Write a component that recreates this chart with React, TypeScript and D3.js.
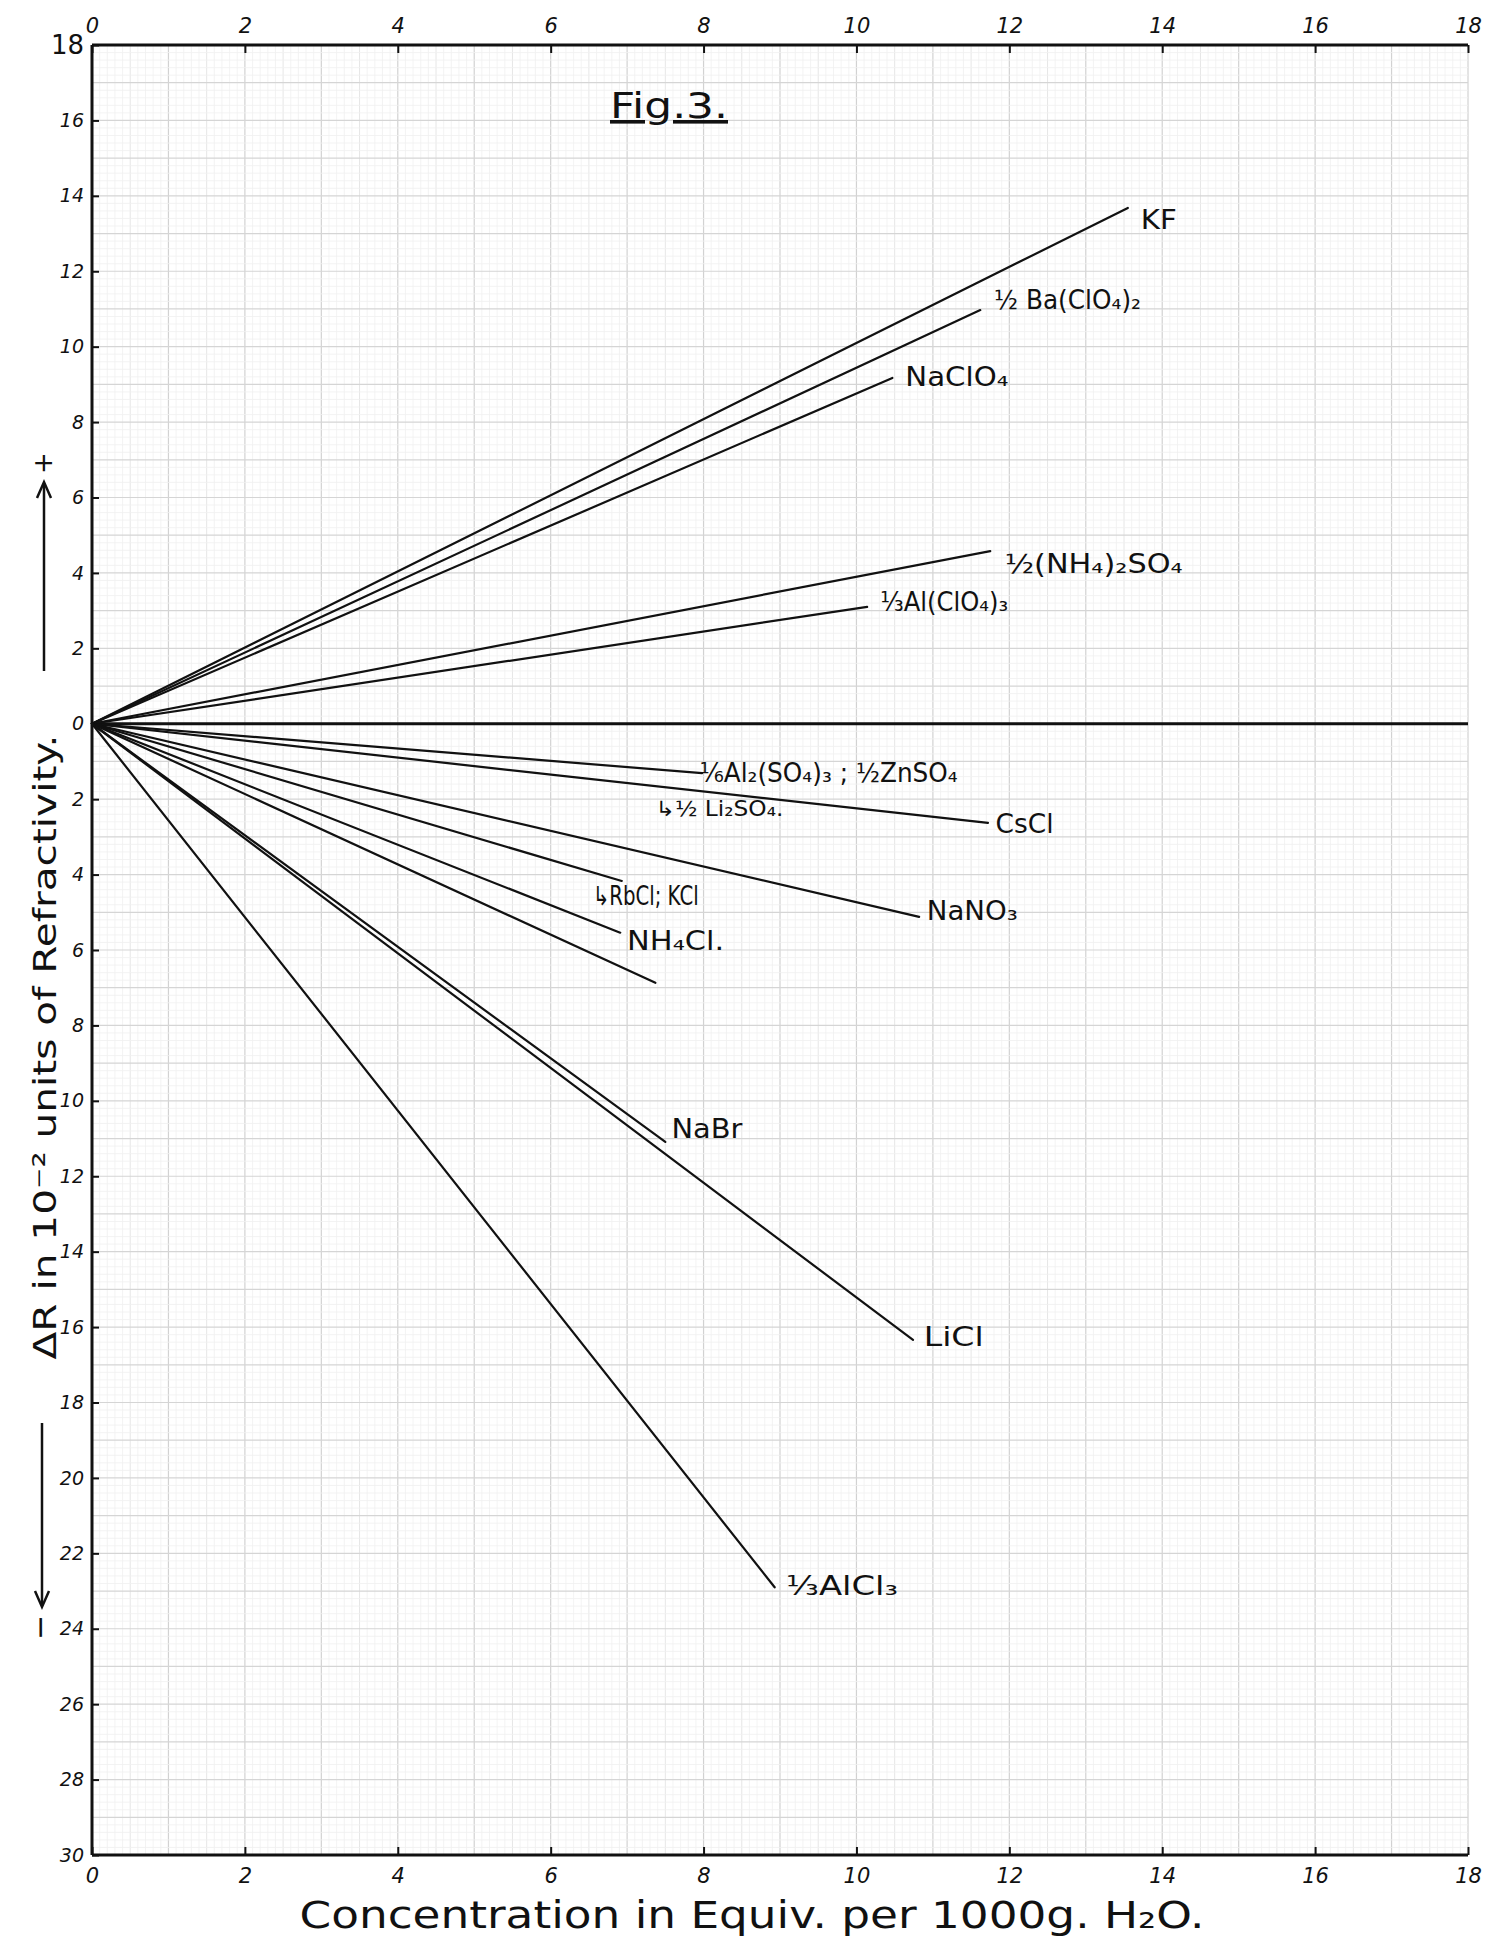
import React, { useEffect, useRef } from "react";
import * as d3 from "d3";

// salts: end point of each straight line (concentration, ΔR)
const salts = [
  "KF",
  "½ Ba(ClO₄)₂",
  "NaClO₄",
  "½(NH₄)₂SO₄",
  "⅓Al(ClO₄)₃",
  "⅙Al₂(SO₄)₃ ; ½ZnSO₄",
  "CsCl",
  "NaNO₃",
  "↳RbCl; KCl",
  "NH₄Cl.",
  "",
  "NaBr",
  "LiCl",
  "⅓AlCl₃",
];
const endConc = [13.55, 11.62, 10.47, 11.75, 10.14, 7.98, 11.72, 10.82, 6.93, 6.91, 7.37, 7.5, 10.74, 8.93];
const endDeltaR = [13.68, 10.97, 9.17, 4.58, 3.1, -1.31, -2.63, -5.12, -4.17, -5.54, -6.87, -11.09, -16.34, -22.9];

// where the hand written names sit (data units)
const labelConc = [13.72, 11.8, 10.64, 11.94, 10.31, 7.95, 11.82, 10.92, 6.55, 7.0, 0, 7.58, 10.88, 9.08];
const labelDeltaR = [13.12, 11.0, 8.95, 4.0, 3.0, -1.55, -2.9, -5.2, -4.8, -6.0, 0, -10.98, -16.5, -23.1];
// drawn width of each name in px
const labelWidth = [36, 147, 103, 178, 128, 258, 58, 91, 106, 97, 0, 71, 60, 112];

const xTicks = d3.range(0, 19, 2);
const yTicks = d3.range(-30, 19, 2);

const W = 1496;
const H = 1948;
const left = 92;
const right = 1468;
const top = 45;
const bottom = 1855;

const numFont = "'DejaVu Sans', sans-serif";
const textFont = "'DejaVu Sans', sans-serif";

export default function App() {
  const topAxis = useRef<SVGGElement>(null);
  const bottomAxis = useRef<SVGGElement>(null);
  const leftAxis = useRef<SVGGElement>(null);

  const x = d3.scaleLinear().domain([0, 18]).range([left, right]);
  const y = d3.scaleLinear().domain([-30, 18]).range([bottom, top]);
  const line = d3
    .line<[number, number]>()
    .x((d) => x(d[0]))
    .y((d) => y(d[1]));

  useEffect(() => {
    const style = (g: any, size: number) => {
      g.select(".domain").remove();
      g.selectAll(".tick line").attr("stroke", "#111").attr("stroke-width", 2);
      g.selectAll(".tick text")
        .attr("font-family", numFont)
        .attr("font-style", "italic")
        .attr("font-size", size)
        .attr("fill", "#111");
    };
    const t = d3.select(topAxis.current);
    t.call(d3.axisTop(x).tickValues(xTicks).tickSize(-8).tickPadding(12) as any);
    style(t, 21);
    const b = d3.select(bottomAxis.current);
    b.call(d3.axisBottom(x).tickValues(xTicks).tickSize(-8).tickPadding(13) as any);
    style(b, 21);
    const l = d3.select(leftAxis.current);
    l.call(
      d3
        .axisLeft(y)
        .tickValues(yTicks)
        .tickSize(-7)
        .tickPadding(8)
        .tickFormat((d: any) => String(Math.abs(d))) as any
    );
    style(l, 19);
    l.selectAll(".tick text").filter((d: any) => d === 18).attr("font-size", 26).attr("font-style", "normal");
  }, []);

  // graph paper
  const minorX = d3.range(0, 18.001, 0.1);
  const minorY = d3.range(-30, 18.001, 0.2);

  return (
    <svg width={W} height={H} style={{ position: "absolute", left: 0, top: 0, background: "#fff" }}>
      <g>
        {minorX.map((v, i) => (
          <line
            key={"vx" + i}
            x1={x(v)}
            x2={x(v)}
            y1={top}
            y2={bottom}
            stroke={i % 10 === 0 ? "#d2d2d2" : i % 5 === 0 ? "#e0e0e0" : "#f0f0f0"}
            strokeWidth={i % 10 === 0 ? 1.2 : 0.8}
          />
        ))}
        {minorY.map((v, i) => (
          <line
            key={"hy" + i}
            x1={left}
            x2={right}
            y1={y(v)}
            y2={y(v)}
            stroke={i % 5 === 0 ? "#d5d5d5" : "#f0f0f0"}
            strokeWidth={i % 5 === 0 ? 1.2 : 0.8}
          />
        ))}
      </g>

      {/* frame: left, top, bottom */}
      <g stroke="#111" strokeWidth={3} fill="none">
        <line x1={left} x2={right} y1={top} y2={top} />
        <line x1={left} x2={right} y1={bottom} y2={bottom} />
        <line x1={left} x2={left} y1={top} y2={bottom} />
      </g>
      <g ref={topAxis} transform={`translate(0,${top})`} />
      <g ref={bottomAxis} transform={`translate(0,${bottom})`} />
      <g ref={leftAxis} transform={`translate(${left},0)`} />

      {/* zero line */}
      <path d={line([[0, 0], [18, 0]]) || ""} stroke="#111" strokeWidth={3.2} fill="none" />

      {/* salt lines */}
      <g stroke="#111" strokeWidth={2.2} fill="none" strokeLinecap="round">
        {salts.map((s, i) => (
          <path key={"l" + i} d={line([[0, 0], [endConc[i], endDeltaR[i]]]) || ""} />
        ))}
      </g>

      <g fontFamily={textFont} fontSize={26} fill="#111">
        {salts.map((s, i) =>
          s ? (
            <text
              key={"t" + i}
              x={x(labelConc[i])}
              y={y(labelDeltaR[i])}
              textLength={labelWidth[i]}
              lengthAdjust="spacingAndGlyphs"
            >
              {s}
            </text>
          ) : null
        )}
        <text x={x(7.37)} y={y(-2.45)} fontSize={21} textLength={128} lengthAdjust="spacingAndGlyphs">
          ↳½ Li₂SO₄.
        </text>
      </g>

      {/* title */}
      <text
        x={610}
        y={118}
        fontFamily={textFont}
        fontSize={36}
        fill="#111"
        textDecoration="underline"
        textLength={118}
        lengthAdjust="spacingAndGlyphs"
      >
        Fig.3.
      </text>

      {/* axis titles */}
      <text
        x={752}
        y={1928}
        textAnchor="middle"
        fontFamily={textFont}
        fontSize={37}
        fill="#111"
        textLength={905}
        lengthAdjust="spacingAndGlyphs"
      >
        Concentration in Equiv. per 1000g. H₂O.
      </text>
      <text
        transform={`translate(56,1047) rotate(-90)`}
        textAnchor="middle"
        fontFamily={textFont}
        fontSize={32}
        fill="#111"
        textLength={625}
        lengthAdjust="spacingAndGlyphs"
      >
        ΔR in 10⁻² units of Refractivity.
      </text>
      <g stroke="#111" strokeWidth={2.5} fill="none">
        <line x1={44} x2={44} y1={671} y2={484} />
        <path d="M37,498 L44,482 L51,498" />
        <line x1={42} x2={42} y1={1423} y2={1605} />
        <path d="M35,1591 L42,1607 L49,1591" />
      </g>
      <text transform="translate(52,474) rotate(-90)" fontFamily={textFont} fontSize={26} fill="#111">
        +
      </text>
      <text transform="translate(50,1640) rotate(-90)" fontFamily={textFont} fontSize={30} fill="#111">
        −
      </text>
    </svg>
  );
}
